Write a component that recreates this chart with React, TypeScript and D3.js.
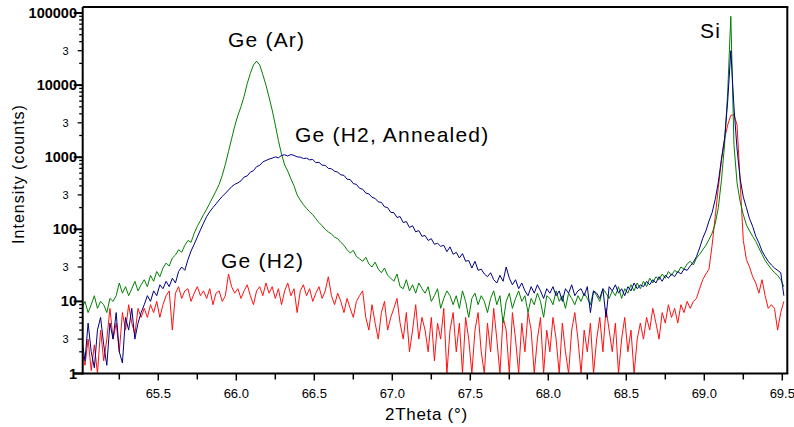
import React from "react";
import * as d3 from "d3";

// 2Theta sampling of the scans (degrees)
const THETA_START = 65.01;
const THETA_STEP = 0.02;

// Ge (Ar) — green
const geArCounts = [
  8, 10, 7, 9, 12, 8, 10, 9, 7, 11,
  10, 12, 18, 13, 16, 12, 15, 19, 14, 17,
  20, 16, 23, 19, 26, 22, 29, 34, 31, 40,
  44, 52, 48, 60, 70, 66, 88, 110, 132, 160,
  190, 230, 280, 340, 420, 560, 800, 1200, 1800, 2700,
  3800, 5000, 7000, 10500, 14500, 19000, 21500, 19000, 14000, 10000,
  6800, 4500, 2800, 1700, 1100, 780, 640, 500, 400, 300,
  255, 220, 195, 175, 160, 140, 124, 112, 100, 92,
  86, 78, 74, 66, 60, 52, 47, 51, 42, 39,
  36, 41, 33, 30, 35, 28, 25, 29, 23, 21,
  19, 24, 16, 15, 20, 14, 17, 13, 18, 15,
  13, 16, 10, 12, 15, 8, 11, 14, 12, 9,
  12, 8, 14, 10, 6, 11, 13, 9, 12, 10,
  7, 11, 14, 9, 12, 5, 10, 13, 8, 11,
  14, 10, 12, 7, 11, 9, 13, 10, 6, 12,
  11, 9, 14, 10, 12, 8, 13, 11, 9, 12,
  10, 13, 11, 9, 14, 12, 10, 15, 13, 11,
  14, 12, 16, 11, 15, 13, 17, 14, 18, 15,
  19, 16, 21, 18, 22, 20, 24, 21, 26, 23,
  27, 25, 30, 28, 33, 36, 32, 40, 45, 52,
  60, 72, 88, 120, 200, 480, 1500, 8000, 90000, 1500,
  440, 240, 160, 115, 95, 80, 68, 55, 45, 37,
  32, 28, 25, 23, 20, 16,
];

// Ge (H2, Annealed) — navy
const geH2AnnealedCounts = [
  3, 1.5, 5, 2, 1.2, 4, 6, 2.5, 1.3, 5,
  3, 7, 2, 1.4, 6, 4, 8, 3, 5, 7,
  9, 12, 10, 14, 12, 17, 15, 19, 16, 21,
  18, 26, 30, 27, 38, 50, 62, 78, 98, 122,
  150, 175, 200, 225, 255, 285, 315, 350, 390, 420,
  440, 470, 530, 550, 620, 650, 740, 770, 860, 900,
  940, 970, 1010, 980, 1060, 1080, 1040, 1090, 1060, 1010,
  1000, 960, 970, 920, 930, 840, 850, 775, 770, 700,
  690, 640, 620, 570, 560, 495, 490, 430, 420, 370,
  360, 318, 310, 278, 268, 240, 236, 205, 200, 172,
  170, 146, 150, 124, 128, 106, 112, 92, 96, 80,
  82, 70, 74, 62, 64, 58, 60, 49, 57, 45,
  48, 40, 46, 36, 37, 29, 36, 27, 28, 24,
  22, 25, 20, 18, 23, 19, 30, 21, 17, 20,
  15, 18, 14, 12, 16, 13, 17, 14, 11, 15,
  13, 16, 12, 14, 10, 15, 13, 17, 12, 14,
  15, 12, 16, 7, 14, 13, 11, 15, 6, 16,
  14, 17, 13, 15, 12, 16, 14, 18, 15, 17,
  16, 19, 17, 20, 18, 22, 19, 23, 21, 24,
  22, 26, 24, 28, 27, 31, 35, 42, 55, 75,
  95, 130, 170, 260, 450, 950, 1800, 6000, 30000, 5000,
  1300, 500, 280, 200, 140, 110, 80, 65, 50, 42,
  36, 32, 29, 27, 25, 12,
];

// Ge (H2) — red
const geH2Counts = [
  2, 1.3, 3, 1.1, 2.5, 1, 4, 1.5, 3, 8,
  3, 5, 2, 7, 4, 9, 5, 3.5, 8, 6,
  8, 6, 9, 7, 10, 6, 9, 12, 14, 4,
  13, 16, 11, 14, 15, 10, 13, 16, 12, 14,
  11, 15, 9, 13, 14, 10, 12, 24, 16, 13,
  15, 11, 14, 17, 12, 9, 14, 16, 12, 18,
  13, 16, 11, 15, 9, 14, 18, 12, 15, 7,
  14, 17, 12, 15, 10, 13, 16, 11, 14, 22,
  12, 9, 13, 10, 7, 11, 8, 6, 10, 12,
  14, 6, 4, 9, 5, 3, 7, 10, 4, 6,
  8, 11, 5, 3, 7, 2, 4, 9, 3, 6,
  4, 2, 6, 1.5, 5, 3, 8, 1, 4, 7,
  2, 5, 1, 6, 3, 1, 4, 7, 2, 1,
  5, 2, 8, 3, 1, 6, 4, 1, 7, 3,
  1, 5, 2, 7, 4, 1, 3, 6, 1, 4,
  2, 6, 3, 1, 5, 2, 1, 4, 7, 3,
  1, 4, 2, 5, 1, 3, 6, 2, 8, 4,
  2, 5, 1, 3, 6, 2, 4, 1, 3, 5,
  3, 6, 4, 8, 5, 3, 7, 5, 9, 6,
  8, 5, 9, 7, 10, 8, 10, 11, 15, 20,
  24, 28, 60, 150, 380, 900, 1800, 2800, 3800, 3900,
  2800, 450, 70, 38, 30, 22, 18, 13, 20, 12,
  8, 9, 8, 4, 7, 10,
];

const xMajorTicks = [65.5, 66.0, 66.5, 67.0, 67.5, 68.0, 68.5, 69.0, 69.5];
const xMinorTicks = [65.25, 65.75, 66.25, 66.75, 67.25, 67.75, 68.25, 68.75, 69.25];
const yDecades = [1, 10, 100, 1000, 10000, 100000];
const yDecadeLabels = ["1", "10", "100", "1000", "10000", "100000"];
const yThrees = [3, 30, 300, 3000, 30000];
const yMinorMultipliers = [2, 4, 5, 6, 7, 8, 9];

const W = 794;
const H = 427;
const FRAME_L = 82.7;
const FRAME_R = 787.3;
const FRAME_T = 7;
const FRAME_B = 373.5;

export default function App() {
  const x = d3.scaleLinear().domain([65.5, 69.5]).range([158.3, 782.3]);
  const y = d3.scaleLog().domain([1, 100000]).range([FRAME_B, 13]);

  const toPoints = (arr: number[]) =>
    arr.map((v, i) => [THETA_START + i * THETA_STEP, Math.max(1, v)] as [number, number]);

  const line = d3
    .line<[number, number]>()
    .x((d) => x(d[0]))
    .y((d) => y(d[1]));

  const minorY: number[] = [];
  yDecades.slice(0, 5).forEach((d) => yMinorMultipliers.forEach((m) => minorY.push(d * m)));

  const font = "'Liberation Sans', Arial, sans-serif";

  return (
    <svg width={W} height={H} style={{ position: "absolute", left: 0, top: 0, background: "#fff" }}>
      <defs>
        <clipPath id="plotclip">
          <rect x={FRAME_L} y={FRAME_T} width={FRAME_R - FRAME_L} height={FRAME_B - FRAME_T} />
        </clipPath>
      </defs>
      <rect x={0} y={0} width={W} height={H} fill="#fff" />

      <g clipPath="url(#plotclip)" fill="none" strokeWidth={1} strokeLinejoin="round">
        <path d={line(toPoints(geH2Counts)) || ""} stroke="#ff1010" />
        <path d={line(toPoints(geArCounts)) || ""} stroke="#008000" />
        <path d={line(toPoints(geH2AnnealedCounts)) || ""} stroke="#000080" />
      </g>

      {/* frame */}
      <g stroke="#000" strokeWidth={2} fill="none">
        <line x1={FRAME_L} x2={FRAME_R + 1} y1={FRAME_T} y2={FRAME_T} />
        <line x1={FRAME_R} x2={FRAME_R} y1={FRAME_T} y2={FRAME_B} />
        <line x1={FRAME_L} x2={FRAME_L} y1={FRAME_T} y2={FRAME_B + 1} />
        <line x1={FRAME_L - 9} x2={FRAME_R + 1} y1={FRAME_B} y2={FRAME_B} />
      </g>

      {/* y ticks */}
      <g stroke="#000" strokeWidth={1.3}>
        {yDecades.map((v) => (
          <line key={"d" + v} x1={FRAME_L - 9} x2={FRAME_L} y1={y(v)} y2={y(v)} strokeWidth={2} />
        ))}
        {yThrees.map((v) => (
          <line key={"t" + v} x1={FRAME_L - 5} x2={FRAME_L} y1={y(v)} y2={y(v)} />
        ))}
        {minorY.map((v) => (
          <line key={"m" + v} x1={FRAME_L - 3.5} x2={FRAME_L} y1={y(v)} y2={y(v)} />
        ))}
      </g>
      <g fontFamily={font} fill="#000">
        {yDecades.map((v, i) => (
          <text key={"yl" + v} x={77} y={y(v) + 5} textAnchor="end" fontSize={14.5} fontWeight="bold">
            {yDecadeLabels[i]}
          </text>
        ))}
        {yThrees.map((v) => (
          <text key={"y3" + v} x={68.5} y={y(v) + 4} textAnchor="end" fontSize={11}>
            3
          </text>
        ))}
      </g>

      {/* x ticks */}
      <g stroke="#000" strokeWidth={1.5}>
        {xMajorTicks.map((v) => (
          <line key={"xM" + v} x1={x(v)} x2={x(v)} y1={FRAME_B} y2={FRAME_B + 7} />
        ))}
        {xMinorTicks.map((v) => (
          <line key={"xm" + v} x1={x(v)} x2={x(v)} y1={FRAME_B} y2={FRAME_B + 6} />
        ))}
      </g>
      <g fontFamily={font} fill="#000" fontSize={13} textAnchor="middle">
        {xMajorTicks.map((v) => (
          <text key={"xl" + v} x={x(v)} y={397.5}>
            {v.toFixed(1)}
          </text>
        ))}
      </g>

      {/* axis titles */}
      <text x={385} y={420} fontFamily={font} fontSize={17} letterSpacing={0.7} fill="#000">
        2Theta (°)
      </text>
      <text
        transform="translate(24,174) rotate(-90)"
        textAnchor="middle"
        fontFamily={font}
        fontSize={16}
        letterSpacing={1}
        fill="#000"
      >
        Intensity (counts)
      </text>

      {/* annotations */}
      <g fontFamily={font} fontSize={21} letterSpacing={1.2} fill="#000">
        <text x={228} y={47}>Ge (Ar)</text>
        <text x={295} y={142}>Ge (H2, Annealed)</text>
        <text x={221} y={268}>Ge (H2)</text>
        <text x={700} y={38}>Si</text>
      </g>
    </svg>
  );
}
